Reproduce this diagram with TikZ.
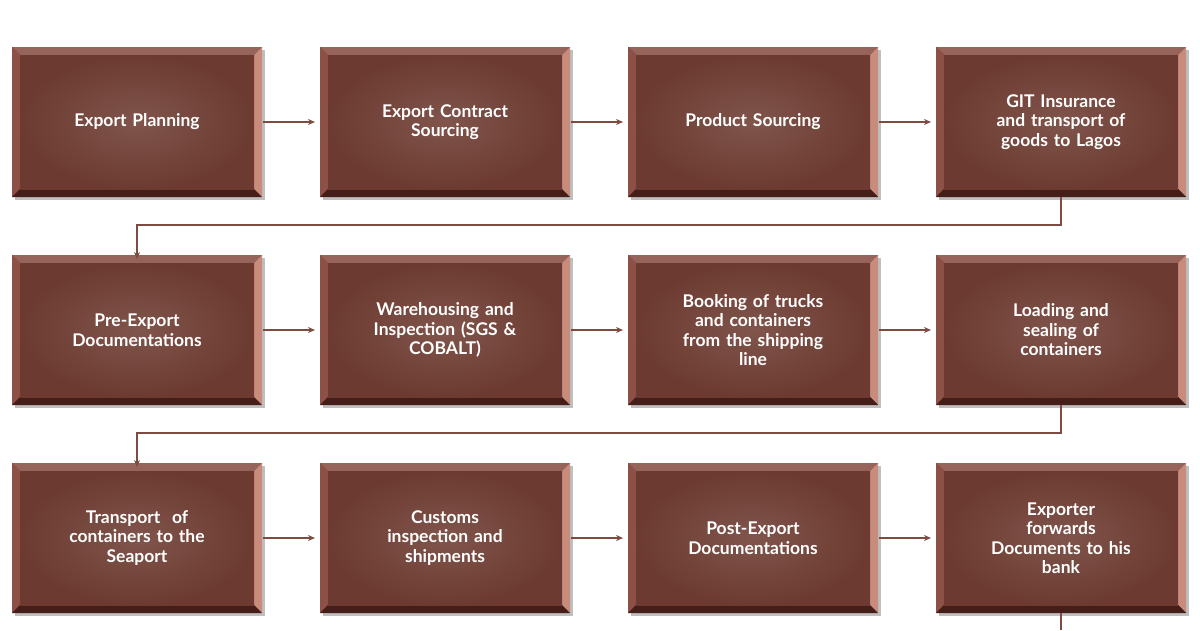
\documentclass[tikz,border=0pt]{standalone}
\usepackage{fontspec}
\setmainfont{Lato}
\usetikzlibrary{arrows.meta}
\definecolor{bdark}{RGB}{88,40,32}
\definecolor{bmid}{RGB}{108,58,48}
\definecolor{blight}{RGB}{128,85,76}
\definecolor{btop}{RGB}{150,100,90}
\definecolor{bleft}{RGB}{140,80,70}
\definecolor{bright}{RGB}{200,140,125}
\definecolor{bbot}{RGB}{70,30,25}
\definecolor{lcol}{RGB}{125,75,65}
\begin{document}
\begin{tikzpicture}[x=1pt,y=-1pt,
 lbl/.style={text=white,font=\bfseries\fontsize{17.5}{19.5}\selectfont,align=center,text width=215pt},
 conn/.style={draw=lcol,line width=1.3pt},
 arr/.style={conn,-{Stealth[length=7pt,width=6pt]}}]
\useasboundingbox[fill=white] (0,0) rectangle (1200,630);
\newcommand\bevbox[4]{%
 \begin{scope}[shift={(#1,#2)}]
 \fill[black!25] (3,3) rectangle (253,153);
 \fill[bdark] (0,0) rectangle (250,150);
 \fill[btop] (0,0)--(250,0)--(242,8)--(8,8)--cycle;
 \fill[bleft] (0,0)--(8,8)--(8,142)--(0,150)--cycle;
 \fill[bright] (250,0)--(250,150)--(242,142)--(242,8)--cycle;
 \fill[bbot] (0,150)--(8,142)--(242,142)--(250,150)--cycle;
 \shade[inner color=blight,outer color=bmid] (8,8) rectangle (242,142);
 \end{scope}
 \node[lbl] (#3) at (#1+125,#2+75) {#4};
 \coordinate (#3w) at (#1,#2+75); \coordinate (#3e) at (#1+250,#2+75);
 \coordinate (#3n) at (#1+125,#2); \coordinate (#3s) at (#1+125,#2+150);}
\bevbox{12}{47}{a}{Export Planning}
\bevbox{320}{47}{b}{Export Contract\\Sourcing}
\bevbox{628}{47}{c}{Product Sourcing}
\bevbox{936}{47}{d}{GIT Insurance\\and transport of\\goods to Lagos}
\bevbox{12}{255}{e}{Pre-Export\\Documentations}
\bevbox{320}{255}{f}{Warehousing and\\Inspection (SGS \&\\COBALT)}
\bevbox{628}{255}{g}{Booking of trucks\\and containers\\from the shipping\\line}
\bevbox{936}{255}{h}{Loading and\\sealing of\\containers}
\bevbox{12}{463}{i}{Transport\ \ of\\containers to the\\Seaport}
\bevbox{320}{463}{j}{Customs\\inspection and\\shipments}
\bevbox{628}{463}{k}{Post-Export\\Documentations}
\bevbox{936}{463}{l}{Exporter\\forwards\\Documents to his\\bank}
\foreach \p/\q in {a/b,b/c,c/d,e/f,f/g,g/h,i/j,j/k,k/l}
 \draw[arr] ([xshift=1pt]\p e) -- ([xshift=-5pt]\q w);
\coordinate (t1) at (1061,225); \coordinate (t2) at (137,225);
\draw[arr] (ds) -- (t1) -- (t2) -- ([yshift=-4pt]en);
\coordinate (u1) at (1061,433); \coordinate (u2) at (137,433);
\draw[arr] (hs) -- (u1) -- (u2) -- ([yshift=-4pt]in);
\coordinate (v) at (1061,630);
\draw[conn] (ls) -- (v);
\end{tikzpicture}
\end{document}
